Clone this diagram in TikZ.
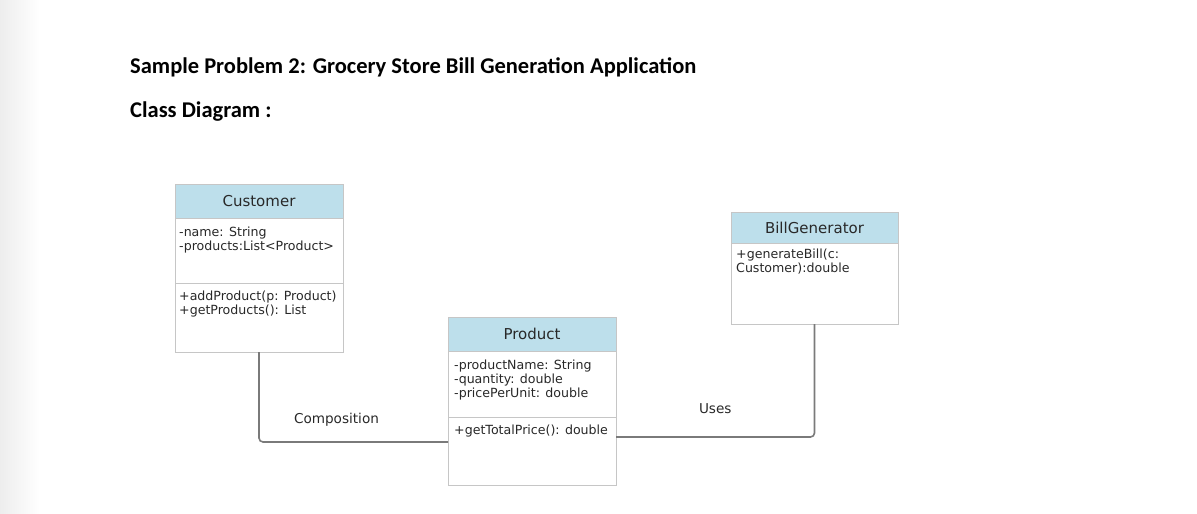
\documentclass[tikz,border=0pt]{standalone}
\usepackage{fontspec}
\setmainfont{Carlito}
\newfontfamily\umlfont{DejaVu Sans}
\usetikzlibrary{positioning}
\definecolor{headblue}{RGB}{189,223,235}
\definecolor{boxgrey}{RGB}{198,198,198}
\definecolor{linkgrey}{RGB}{122,122,122}
\definecolor{umltext}{RGB}{40,40,40}
\tikzset{
  classhead/.style={draw=boxgrey, fill=headblue, line width=0.9pt, outer sep=0pt, minimum width=168pt, inner sep=0pt, font=\umlfont\fontsize{15}{17}\selectfont, text=umltext},
  classpart/.style={draw=boxgrey, fill=white, line width=0.9pt, outer sep=0pt, minimum width=168pt, inner sep=0pt},
  members/.style={inner sep=0pt, align=left, font=\umlfont\fontsize{12.6}{13.8}\selectfont, text=umltext},
  link/.style={draw=linkgrey, line width=1.6pt, rounded corners=4pt},
  linklabel/.style={font=\umlfont\fontsize{13.6}{15}\selectfont, text=umltext, inner sep=0pt}
}

\begin{document}
\begin{tikzpicture}[x=1pt, y=-1pt]
  \useasboundingbox (0,0) rectangle (1197,514);
  \shade[left color=black!7, right color=white] (0,0) rectangle (40,514);

  % Headings
  \node (title) [anchor=base west, inner sep=0pt, font=\bfseries\fontsize{22.5}{26}\selectfont] at (130,73.3) {Sample Problem 2: Grocery Store Bill Generation Application};
  \node (subtitle) [anchor=base west, inner sep=0pt, font=\bfseries\fontsize{22.5}{26}\selectfont] at (130,117.5) {Class Diagram :};

  % Customer
  \node (cust) [classhead, minimum height=34pt] at (259,201) {Customer};
  \node (custattr) [classpart, below=0pt of cust, minimum height=65pt] {};
  \node (custops) [classpart, below=0pt of custattr, minimum height=69pt] {};
  \node (custattrtxt) [members, below right=9pt and 4pt of custattr.north west] {-name: String\\-products:List<Product>};
  \node (custopstxt) [members, below right=8pt and 4pt of custops.north west] {+addProduct(p: Product)\\+getProducts(): List};

  % Product
  \node (prod) [classhead, minimum height=34pt] at (532,334) {Product};
  \node (prodattr) [classpart, below=0pt of prod, minimum height=66pt] {};
  \node (prodops) [classpart, below=0pt of prodattr, minimum height=68pt] {};
  \node (prodattrtxt) [members, below right=9pt and 6pt of prodattr.north west] {-productName: String\\-quantity: double\\-pricePerUnit: double};
  \node (prodopstxt) [members, below right=8pt and 6pt of prodops.north west] {+getTotalPrice(): double};

  % BillGenerator
  \node (bill) [classhead, minimum height=31pt, minimum width=167pt] at (814.5,227.5) {BillGenerator};
  \node (billops) [classpart, below=0pt of bill, minimum height=81pt, minimum width=167pt] {};
  \node (billopstxt) [members, below right=6pt and 5pt of billops.north west] {+generateBill(c:\\Customer):double};

  % Relations
  \draw[link] (custops.south) |- node[linklabel, pos=0.705, above=15pt] {Composition} ([yshift=9pt]prodops.west);
  \draw[link] (billops.south) |- node[linklabel, pos=0.75, above=23pt] {Uses} ([yshift=14pt]prodops.east);
\end{tikzpicture}
\end{document}
